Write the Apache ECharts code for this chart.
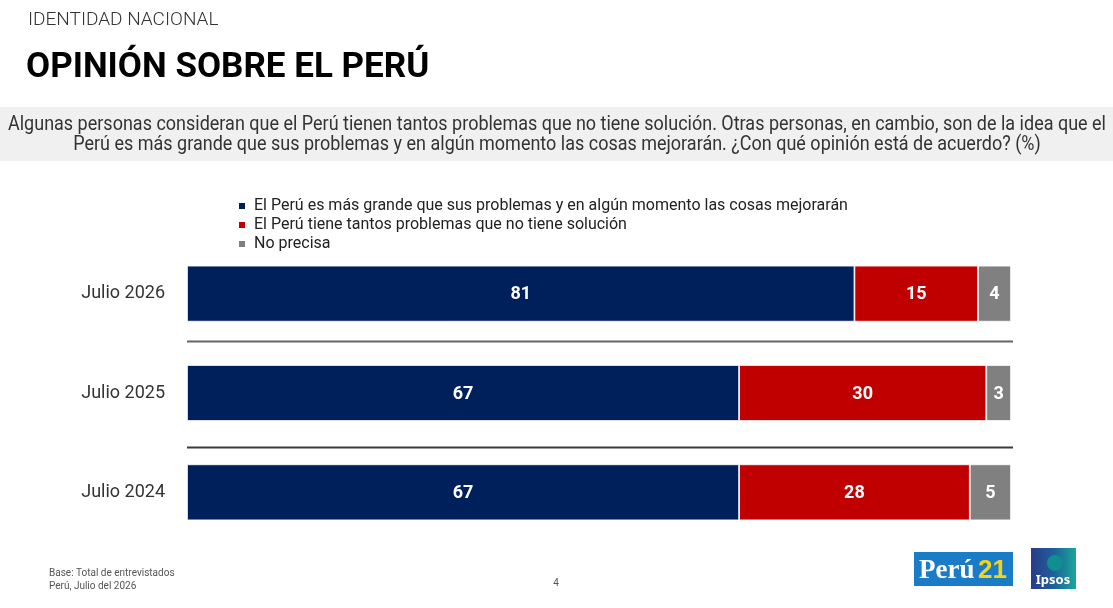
<!DOCTYPE html>
<html><head><meta charset="utf-8">
<script src="https://cdn.jsdelivr.net/npm/echarts@6/dist/echarts.min.js"></script>
<style>html,body{margin:0;padding:0;background:#fff}#c{width:1113px;height:608px}</style>
</head><body><div id="c"></div>
<script>
const categories = ['Julio 2026', 'Julio 2025', 'Julio 2024'];
const seriesNames = [
  'El Perú es más grande que sus problemas y en algún momento las cosas mejorarán',
  'El Perú tiene tantos problemas que no tiene solución',
  'No precisa'
];
const grande = [81, 67, 67];
const sinSolucion = [15, 30, 28];
const noPrecisa = [4, 3, 5];
const colors = ['#00205b', '#c00000', '#808080'];
const questionLines = [
  'Algunas personas consideran que el Perú tienen tantos problemas que no tiene solución. Otras personas, en cambio, son de la idea que el',
  'Perú es más grande que sus problemas y en algún momento las cosas mejorarán. ¿Con qué opinión está de acuerdo? (%)'
];

const chart = echarts.init(document.getElementById('c'), null, {renderer: 'canvas'});
const FONT = 'Roboto, "Noto Sans", sans-serif';

function mk(name, data, color) {
  return {
    name, type: 'bar', stack: 'a', data, barWidth: 56,
    itemStyle: {color, borderColor: '#ffffff', borderWidth: 0.8},
    label: {show: true, position: 'inside', color: '#fff', fontFamily: FONT, fontWeight: 'bold', fontSize: 18, offset: [0, 1]},
    emphasis: {disabled: true}
  };
}

const option = {
  animation: false,
  textStyle: {fontFamily: FONT},
  title: [
    {text: 'IDENTIDAD NACIONAL', left: 28, top: 11, padding: 0, textStyle: {fontFamily: FONT, fontSize: 19, fontWeight: 300, color: '#333'}},
    {text: 'OPINIÓN SOBRE EL PERÚ', left: 26, top: 51, padding: 0, textStyle: {fontFamily: FONT, fontSize: 35, fontWeight: 'bold', color: '#000'}}
  ],
  legend: {
    orient: 'vertical', left: 237, top: 198, padding: 0, itemWidth: 8, itemHeight: 8, itemGap: 3,
    icon: 'rect', selectedMode: false,
    textStyle: {fontFamily: FONT, fontSize: 16, color: '#222', padding: [0, 0, 0, 3]},
    data: seriesNames
  },
  grid: {left: 187, right: 102, top: 244, bottom: 66, containLabel: false},
  xAxis: {type: 'value', min: 0, max: 100, show: false},
  yAxis: {
    type: 'category', data: categories, inverse: true,
    axisLine: {show: false}, axisTick: {show: false}, splitLine: {show: false},
    axisLabel: {fontFamily: FONT, fontSize: 18, color: '#333', margin: 22, padding: [4, 0, 0, 0]}
  },
  series: [mk(seriesNames[0], grande, colors[0]), mk(seriesNames[1], sinSolucion, colors[1]), mk(seriesNames[2], noPrecisa, colors[2])]
};
chart.setOption(option);

// measure question text to fit the condensed look of the original
const cv = document.createElement('canvas').getContext('2d');
cv.font = '20px ' + FONT;
const w0 = cv.measureText(questionLines[0]).width;
const sx = 1098 / w0;

const g = [];
for (let i = 0; i < categories.length - 1; i++) {
  const y1 = chart.convertToPixel({yAxisIndex: 0}, categories[i]);
  const y2 = chart.convertToPixel({yAxisIndex: 0}, categories[i + 1]);
  const x0 = chart.convertToPixel({xAxisIndex: 0}, 0);
  const x1 = chart.convertToPixel({xAxisIndex: 0}, 100);
  const y = Math.round((y1 + y2) / 2 + (i === 0 ? -2 : 4)) + 0.5;
  g.push({type: 'line', shape: {x1: x0, y1: y, x2: x1 + 2, y2: y}, style: {stroke: i === 0 ? '#666' : '#3a3a3a', lineWidth: 2}});
}
g.push({type: 'rect', shape: {x: 0, y: 107, width: 1113, height: 54}, style: {fill: '#f0f0f0'}, z: -1});
questionLines.forEach((t, i) => {
  g.push({type: 'text', x: 557, y: 125 + i * 20, scaleX: sx, style: {text: t, font: '20px ' + FONT, fill: '#333', align: 'center', verticalAlign: 'middle'}});
});
g.push({type: 'text', x: 49, y: 567, style: {text: 'Base: Total de entrevistados\nPerú, Julio del 2026', font: '10px ' + FONT, fill: '#555', lineHeight: 13}});
g.push({type: 'text', x: 556, y: 583, style: {text: '4', font: '10px ' + FONT, fill: '#555', align: 'center', verticalAlign: 'middle'}});
// Perú21 logo
g.push({type: 'rect', shape: {x: 914, y: 552, width: 99, height: 34}, style: {fill: '#1a7cc6'}});
g.push({type: 'text', x: 919, y: 571, style: {text: 'Perú', font: 'bold 27px "Liberation Serif", serif', fill: '#fff', verticalAlign: 'middle'}});
g.push({type: 'text', x: 978, y: 571, style: {text: '21', font: 'bold 26px "Liberation Sans", sans-serif', fill: '#f2d21b', verticalAlign: 'middle'}});
// Ipsos logo
g.push({type: 'rect', shape: {x: 1031, y: 548, width: 45, height: 41}, style: {fill: new echarts.graphic.LinearGradient(0, 0, 1, 0, [{offset: 0, color: '#2a3a8a'}, {offset: 0.5, color: '#1f5f9a'}, {offset: 1, color: '#19a79a'}])}});
g.push({type: 'circle', shape: {cx: 1055, cy: 563, r: 8}, style: {fill: '#0f8f8f'}});
g.push({type: 'text', x: 1053, y: 580, style: {text: 'Ipsos', font: 'bold 13px "Noto Sans", sans-serif', fill: '#fff', align: 'center', verticalAlign: 'middle'}});
chart.setOption({graphic: {elements: g}});
</script>
</body></html>
